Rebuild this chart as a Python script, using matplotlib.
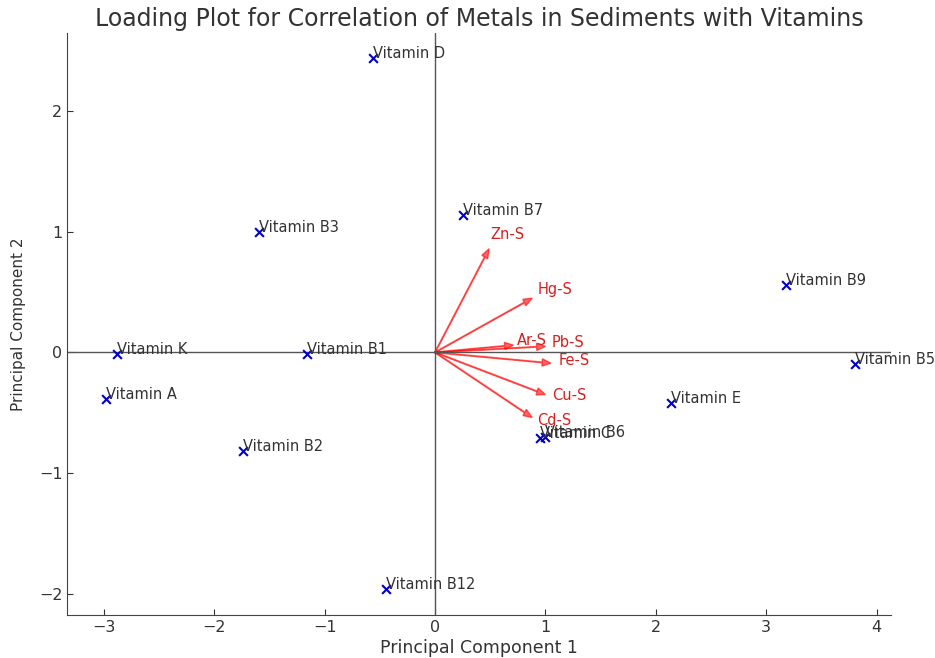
import numpy as np
import matplotlib.pyplot as plt

# scores das vitaminas (PC1, PC2)
vitaminas = ["Vitamin D", "Vitamin B7", "Vitamin B3", "Vitamin K", "Vitamin B1",
             "Vitamin A", "Vitamin B2", "Vitamin B12", "Vitamin C", "Vitamin B6",
             "Vitamin E", "Vitamin B9", "Vitamin B5"]
pc1 = [-0.56, 0.25, -1.59, -2.88, -1.16, -2.98, -1.74, -0.44, 0.95, 1.00, 2.14, 3.18, 3.80]
pc2 = [2.44, 1.14, 1.00, -0.01, -0.01, -0.39, -0.82, -1.96, -0.71, -0.70, -0.42, 0.56, -0.10]

# loadings dos metais (pontas das setas)
metais = ["Zn-S", "Hg-S", "Ar-S", "Pb-S", "Fe-S", "Cu-S", "Cd-S"]
load1 = [0.49, 0.88, 0.71, 1.00, 1.05, 1.00, 0.88]
load2 = [0.86, 0.45, 0.06, 0.05, -0.09, -0.35, -0.54]

cinza = "#333333"

fig = plt.figure(figsize=(9.35, 6.58), dpi=100)
ax = fig.add_axes([0.072, 0.065, 0.881, 0.885])

ax.axhline(0, color="#555555", linewidth=1)
ax.axvline(0, color="#555555", linewidth=1)

ax.scatter(pc1, pc2, marker="x", color="#0000cc", s=40, linewidths=1.5, zorder=3)
for nome, x, y in zip(vitaminas, pc1, pc2):
    ax.text(x, y, nome, color=cinza, fontsize=10.5)

for nome, x, y in zip(metais, load1, load2):
    ax.arrow(0, 0, x, y, color="red", alpha=0.6, width=0.006,
             head_width=0.06, head_length=0.08, length_includes_head=True)
    # rótulo um pouco além da ponta da seta
    ax.text(x * 1.1 - 0.04, y * 1.1 + 0.03, nome, color="#d42020", fontsize=10.5,
            ha="left", va="center")

ax.set_xlim(-3.33, 4.13)
ax.set_ylim(-2.18, 2.65)
ax.set_xticks(np.arange(-3, 5, 1))
ax.set_yticks(np.arange(-2, 3, 1))

ax.set_title("Loading Plot for Correlation of Metals in Sediments with Vitamins",
             fontsize=17, color=cinza, pad=5)
ax.set_xlabel("Principal Component 1", fontsize=12.5, color=cinza, labelpad=3)
ax.set_ylabel("Principal Component 2", fontsize=11, color=cinza, labelpad=9)

for lado in ["top", "right"]:
    ax.spines[lado].set_visible(False)
for lado in ["left", "bottom"]:
    ax.spines[lado].set_color("#444444")
ax.tick_params(colors=cinza, labelsize=11.5, direction="in", length=4)

plt.savefig("out.png", dpi=100)
